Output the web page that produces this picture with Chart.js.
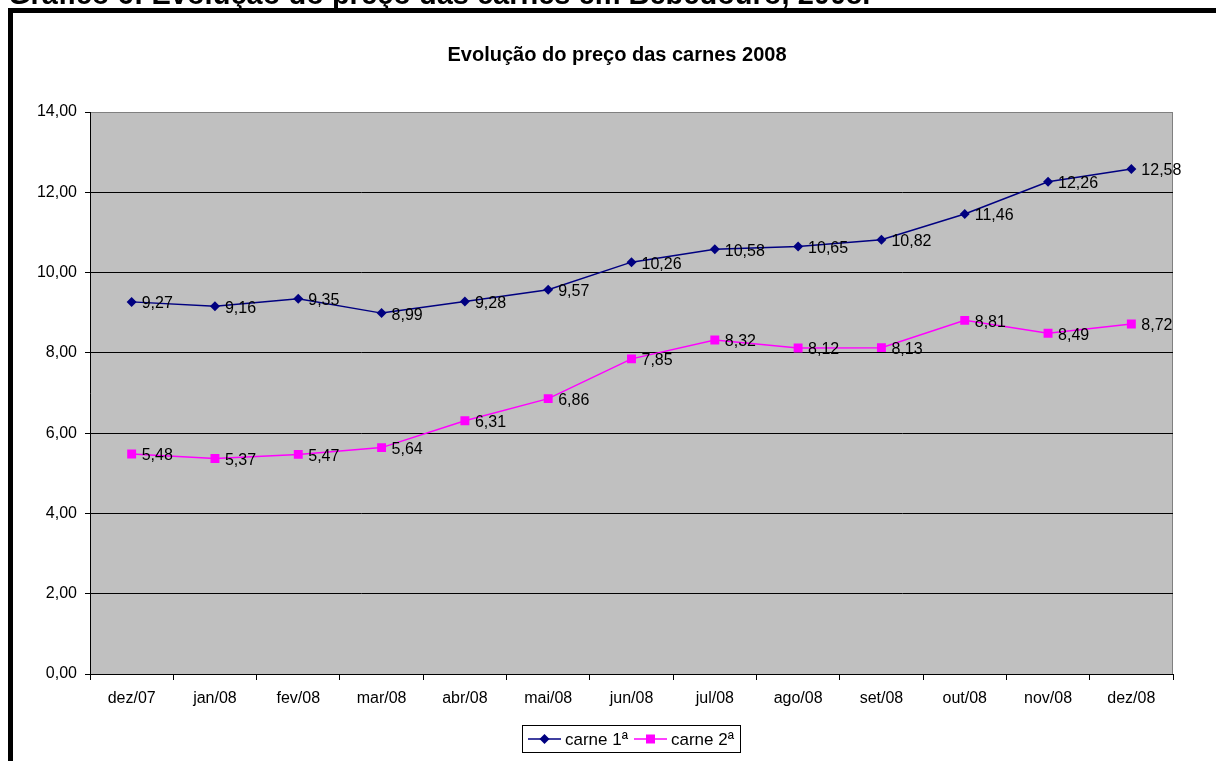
<!DOCTYPE html>
<html><head><meta charset="utf-8">
<script src="https://cdn.jsdelivr.net/npm/chart.js@4/dist/chart.umd.min.js"></script>
<style>html,body{margin:0;padding:0;background:#fff;}#wrap{width:1216px;height:761px;position:relative;}</style>
</head><body><div id="wrap"><canvas id="c" width="1216" height="761"></canvas></div>
<script>
const categories = ['dez/07','jan/08','fev/08','mar/08','abr/08','mai/08','jun/08','jul/08','ago/08','set/08','out/08','nov/08','dez/08'];
const carne1 = [9.27, 9.16, 9.35, 8.99, 9.28, 9.57, 10.26, 10.58, 10.65, 10.82, 11.46, 12.26, 12.58];
const carne2 = [5.48, 5.37, 5.47, 5.64, 6.31, 6.86, 7.85, 8.32, 8.12, 8.13, 8.81, 8.49, 8.72];
const seriesNames = ['carne 1ª', 'carne 2ª'];
const yTicks = [0, 2, 4, 6, 8, 10, 12, 14];
const chartTitle = 'Evolução do preço das carnes 2008';
const pageHeader = 'Gráfico 6: Evolução do preço das carnes em Bebedouro, 2008.';

const FONT = '"Liberation Sans", Arial, sans-serif';
const fmt = v => v.toFixed(2).replace('.', ',');

const decor = {
  id: 'decor',
  beforeDraw(chart) {
    const ctx = chart.ctx, a = chart.chartArea;
    ctx.save();
    ctx.fillStyle = '#fff';
    ctx.fillRect(0, 0, chart.width, chart.height);
    // page header (cut off)
    ctx.fillStyle = '#000';
    ctx.font = 'bold 29px ' + FONT;
    ctx.textBaseline = 'alphabetic';
    ctx.textAlign = 'left';
    ctx.fillText(pageHeader, 8, 4);
    // borders
    ctx.fillRect(8, 8, chart.width - 8, 5);
    ctx.fillRect(8, 8, 5, chart.height - 8);
    // plot area
    ctx.fillStyle = '#C0C0C0';
    ctx.fillRect(a.left, a.top, a.right - a.left, a.bottom - a.top);
    ctx.strokeStyle = '#808080';
    ctx.lineWidth = 1;
    ctx.strokeRect(a.left + 0.5, a.top + 0.5, a.right - a.left - 1, a.bottom - a.top);
    // title
    ctx.fillStyle = '#000';
    ctx.font = 'bold 20px ' + FONT;
    ctx.textAlign = 'center';
    ctx.textBaseline = 'middle';
    ctx.fillText(chartTitle, 617, 55);
    ctx.restore();
  },
  afterDatasetsDraw(chart) {
    const ctx = chart.ctx;
    ctx.save();
    ctx.fillStyle = '#000';
    ctx.font = '16px ' + FONT;
    ctx.textAlign = 'left';
    ctx.textBaseline = 'middle';
    chart.data.datasets.forEach((ds, i) => {
      chart.getDatasetMeta(i).data.forEach((pt, j) => {
        ctx.fillText(fmt(ds.data[j]), pt.x + 10, pt.y + 2);
      });
    });
    // legend
    const bx = 522, by = 725, bw = 218, bh = 27;
    ctx.fillStyle = '#fff';
    ctx.fillRect(bx, by, bw, bh);
    ctx.strokeStyle = '#000';
    ctx.lineWidth = 1;
    ctx.strokeRect(bx + 0.5, by + 0.5, bw, bh);
    const cy = by + bh / 2 + 0.5;
    const items = [
      {x: 528, color: '#000080', shape: 'diamond', text: seriesNames[0], tx: 565},
      {x: 634, color: '#FF00FF', shape: 'square', text: seriesNames[1], tx: 671}
    ];
    items.forEach(it => {
      ctx.strokeStyle = it.color;
      ctx.lineWidth = 1.5;
      ctx.beginPath(); ctx.moveTo(it.x, cy); ctx.lineTo(it.x + 33, cy); ctx.stroke();
      ctx.fillStyle = it.color;
      const mx = it.x + 16.5;
      ctx.beginPath();
      if (it.shape === 'diamond') {
        ctx.moveTo(mx, cy - 5); ctx.lineTo(mx + 5, cy); ctx.lineTo(mx, cy + 5); ctx.lineTo(mx - 5, cy);
        ctx.closePath();
      } else {
        ctx.rect(mx - 4.5, cy - 4.5, 9, 9);
      }
      ctx.fill();
      ctx.fillStyle = '#000';
      ctx.font = '17px ' + FONT;
      ctx.textAlign = 'left';
      ctx.textBaseline = 'middle';
      ctx.fillText(it.text, it.tx, cy + 1);
    });
    ctx.restore();
  }
};

new Chart(document.getElementById('c'), {
  type: 'line',
  data: {
    labels: categories,
    datasets: [
      { label: seriesNames[0], data: carne1, borderColor: '#000080', backgroundColor: '#000080',
        borderWidth: 1.5, pointStyle: 'rectRot', pointRadius: 5, pointBorderWidth: 0, tension: 0 },
      { label: seriesNames[1], data: carne2, borderColor: '#FF00FF', backgroundColor: '#FF00FF',
        borderWidth: 1.5, pointStyle: 'rect', pointRadius: 6.3, pointBorderWidth: 0, tension: 0 }
    ]
  },
  options: {
    responsive: false,
    animation: false,
    layout: { padding: { left: 0, right: 43, top: 112, bottom: 0 } },
    plugins: { legend: { display: false }, title: { display: false }, tooltip: { enabled: false } },
    scales: {
      x: {
        offset: true,
        grid: { offset: true, drawOnChartArea: false, drawTicks: true, tickLength: 6, color: '#000' },
        border: { color: '#000', width: 1 },
        ticks: { color: '#000', font: { family: FONT, size: 16 }, padding: 9, maxRotation: 0, autoSkip: false },
        afterFit(s) { s.height = 87; }
      },
      y: {
        min: 0, max: 14,
        afterBuildTicks(s) { s.ticks = yTicks.map(v => ({ value: v })); },
        grid: { color: ctx => (ctx.tick && ctx.tick.value === 14) ? '#808080' : '#000', tickLength: 5, tickColor: '#000' },
        border: { color: '#000', width: 1 },
        ticks: { color: '#000', font: { family: FONT, size: 16 }, padding: 8, callback: v => fmt(v) },
        afterFit(s) { s.width = 90; }
      }
    }
  },
  plugins: [decor]
});
</script></body></html>
